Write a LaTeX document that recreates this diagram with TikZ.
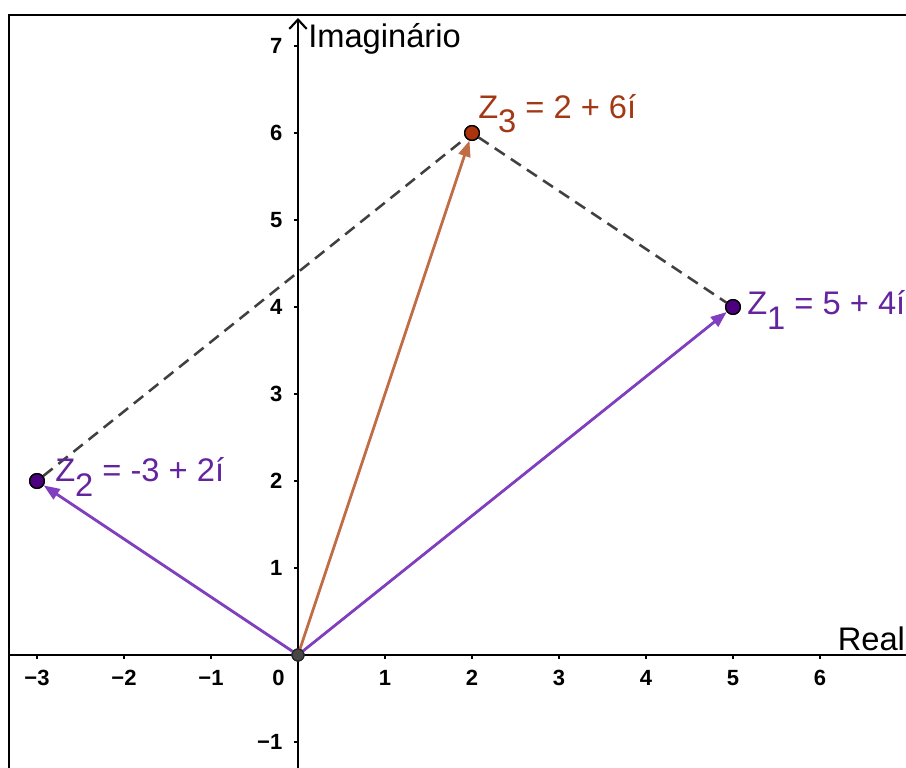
\documentclass[tikz,border=0pt]{standalone}
\usepackage{fontspec}
\setmainfont{Liberation Sans}
\usetikzlibrary{arrows.meta}
\definecolor{vecpurple}{RGB}{127,63,191}
\definecolor{ptpurple}{RGB}{76,0,128}
\definecolor{txtpurple}{RGB}{100,36,158}
\definecolor{vecbrown}{RGB}{192,108,68}
\definecolor{ptbrown}{RGB}{172,52,12}
\definecolor{txtbrown}{RGB}{163,56,20}
\definecolor{dashgray}{RGB}{64,64,64}
\begin{document}
\begin{tikzpicture}[x=65.25pt,y=65.25pt,
  axisline/.style={line width=1.7pt,black},
  tickline/.style={line width=1.3pt,black},
  ticklabel/.style={font=\fontsize{16.5}{18}\selectfont\bfseries,inner sep=0pt},
  axislabel/.style={font=\fontsize{24.5}{28}\selectfont,inner sep=0pt,anchor=base west},
  zlabel/.style={font=\fontsize{24.5}{28}\selectfont,inner sep=0pt,anchor=base west},
  zpoint/.style={circle,draw=black,line width=1pt,minimum size=11pt,inner sep=0pt},
  opoint/.style={circle,draw=black!85,fill=black!72,line width=0.9pt,minimum size=9pt,inner sep=0pt},
  vecarrow/.style={line width=2.1pt,-{Triangle[length=12pt,width=9pt]}},
  paral/.style={line width=1.9pt,dashgray,dash pattern=on 9pt off 5.5pt}
]
\useasboundingbox (-3.42529,-1.28736) rectangle (6.98851,7.52874);
% frame
\draw[line width=1.5pt,line join=miter] (-3.32184,-1.4) -- (-3.32184,7.35632) -- (7.1,7.35632);
% axes
\coordinate (xl) at (-3.32184,0);
\coordinate (xr) at (7.1,0);
\coordinate (yb) at (0,-1.4);
\coordinate (yt) at (0,7.3218);
\draw[axisline] (xl) -- (xr);
\draw[axisline,-{Straight Barb[length=7pt,width=13pt,line width=1.6pt]}] (yb) -- (yt);
% ticks
\foreach \i in {-3,-2,-1,1,2,3,4,5,6}
  \draw[tickline] (\i,0) -- (\i,-0.05);
\foreach \j in {-1,1,2,3,4,5,6,7}
  \draw[tickline] (0,\j) -- (-0.05,\j);
% tick labels
\foreach \i/\t in {-3/−3,-2/−2,-1/−1,1/1,2/2,3/3,4/4,5/5,6/6}
  \node[ticklabel] (xt\i) at (\i,-0.262) {\t};
\node[ticklabel] (xt0) at (-0.224,-0.262) {0};
\foreach \j/\t in {-1/−1,1/1,2/2,3/3,4/4,5/5,6/6,7/7}
  \node[ticklabel,anchor=east] (yt\j) at (-0.178,\j) {\t};
% axis labels
\node[axislabel] (imlab) at (0.115,6.977) {Imaginário};
\node[axislabel,anchor=base east] (relab) at (6.98,0.057) {Real};
% points
\node[opoint] (O) at (0,0) {};
\node[zpoint,fill=ptpurple] (Z1) at (5,4) {};
\node[zpoint,fill=ptpurple] (Z2) at (-3,2) {};
\node[zpoint,fill=ptbrown] (Z3) at (2,6) {};
% parallelogram dashed sides
\draw[paral] (Z2) -- (Z3);
\draw[paral] (Z3) -- (Z1);
% vectors
\draw[vecarrow,vecpurple] (O) -- (Z1);
\draw[vecarrow,vecpurple] (O) -- (Z2);
\draw[vecarrow,vecbrown] (O) -- (Z3);
% redraw points on top
\node[opoint] at (0,0) {};
\node[zpoint,fill=ptpurple] at (5,4) {};
\node[zpoint,fill=ptpurple] at (-3,2) {};
\node[zpoint,fill=ptbrown] at (2,6) {};
% labels
\node[zlabel,txtpurple] (L1) at (5.161,3.908) {Z\raisebox{-11pt}{1} = 5 + 4í};
\node[zlabel,txtpurple] (L2) at (-2.793,1.989) {Z\raisebox{-11pt}{2} = -3 + 2í};
\node[zlabel,txtbrown] (L3) at (2.069,6.172) {Z\raisebox{-11pt}{3} = 2 + 6í};
\end{tikzpicture}
\end{document}
